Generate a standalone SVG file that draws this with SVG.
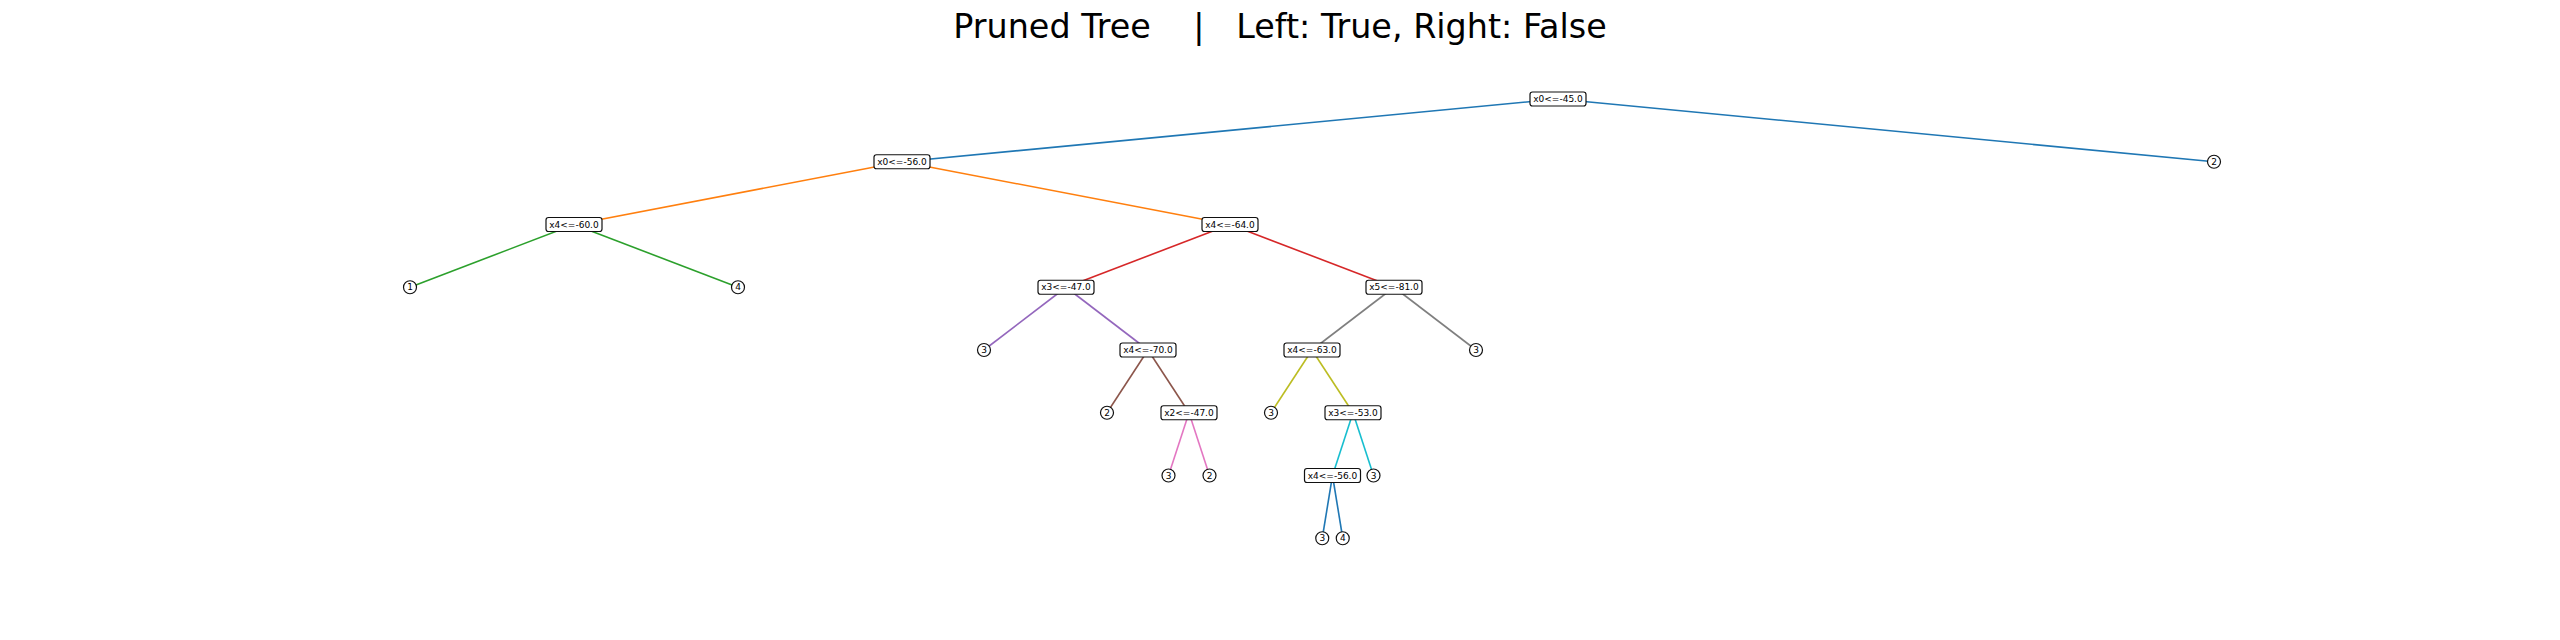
<svg xmlns="http://www.w3.org/2000/svg" width="2560" height="640" viewBox="0 0 2560 640">
<style>
.e{fill:none;stroke-width:1.6}
.box{fill:#fff;stroke:#111;stroke-width:1.2}
.leaf{fill:#fff;stroke:#111;stroke-width:1.2}
.t{font-family:"DejaVu Sans",sans-serif;font-size:9px;text-anchor:middle;fill:#000}
.title{font-family:"DejaVu Sans",sans-serif;font-size:33.4px;text-anchor:middle;fill:#000}
</style>
<rect width="2560" height="640" fill="#fff"/>
<text class="title" x="1280" y="38" xml:space="preserve">Pruned Tree    |   Left: True, Right: False</text>
<g id="connectors">
<line class="e" stroke="#1f77b4" x1="1558" y1="99" x2="902" y2="161.75"/>
<line class="e" stroke="#1f77b4" x1="1558" y1="99" x2="2214" y2="161.75"/>
<line class="e" stroke="#ff7f0e" x1="902" y1="161.75" x2="574" y2="224.5"/>
<line class="e" stroke="#ff7f0e" x1="902" y1="161.75" x2="1230" y2="224.5"/>
<line class="e" stroke="#2ca02c" x1="574" y1="224.5" x2="410" y2="287.25"/>
<line class="e" stroke="#2ca02c" x1="574" y1="224.5" x2="738" y2="287.25"/>
<line class="e" stroke="#d62728" x1="1230" y1="224.5" x2="1066" y2="287.25"/>
<line class="e" stroke="#d62728" x1="1230" y1="224.5" x2="1394" y2="287.25"/>
<line class="e" stroke="#9467bd" x1="1066" y1="287.25" x2="984" y2="350"/>
<line class="e" stroke="#9467bd" x1="1066" y1="287.25" x2="1148" y2="350"/>
<line class="e" stroke="#7f7f7f" x1="1394" y1="287.25" x2="1312" y2="350"/>
<line class="e" stroke="#7f7f7f" x1="1394" y1="287.25" x2="1476" y2="350"/>
<line class="e" stroke="#8c564b" x1="1148" y1="350" x2="1107" y2="412.75"/>
<line class="e" stroke="#8c564b" x1="1148" y1="350" x2="1189" y2="412.75"/>
<line class="e" stroke="#bcbd22" x1="1312" y1="350" x2="1271" y2="412.75"/>
<line class="e" stroke="#bcbd22" x1="1312" y1="350" x2="1353" y2="412.75"/>
<line class="e" stroke="#e377c2" x1="1189" y1="412.75" x2="1168.5" y2="475.5"/>
<line class="e" stroke="#e377c2" x1="1189" y1="412.75" x2="1209.5" y2="475.5"/>
<line class="e" stroke="#17becf" x1="1353" y1="412.75" x2="1332.5" y2="475.5"/>
<line class="e" stroke="#17becf" x1="1353" y1="412.75" x2="1373.5" y2="475.5"/>
<line class="e" stroke="#1f77b4" x1="1332.5" y1="475.5" x2="1322.25" y2="538.25"/>
<line class="e" stroke="#1f77b4" x1="1332.5" y1="475.5" x2="1342.75" y2="538.25"/>
</g>
<g id="n_root"><rect class="box" x="1530" y="92" width="56" height="14" rx="2.5"/><text class="t" x="1558" y="102.2">x0&lt;=-45.0</text></g>
<g id="n_x0_56"><rect class="box" x="874" y="154.75" width="56" height="14" rx="2.5"/><text class="t" x="902" y="164.95">x0&lt;=-56.0</text></g>
<g id="leaf_r2"><circle class="leaf" cx="2214" cy="161.75" r="6.5"/><text class="t" x="2214" y="164.95">2</text></g>
<g id="n_x4_60"><rect class="box" x="546" y="217.5" width="56" height="14" rx="2.5"/><text class="t" x="574" y="227.7">x4&lt;=-60.0</text></g>
<g id="n_x4_64"><rect class="box" x="1202" y="217.5" width="56" height="14" rx="2.5"/><text class="t" x="1230" y="227.7">x4&lt;=-64.0</text></g>
<g id="leaf_1"><circle class="leaf" cx="410" cy="287.25" r="6.5"/><text class="t" x="410" y="290.45">1</text></g>
<g id="leaf_4a"><circle class="leaf" cx="738" cy="287.25" r="6.5"/><text class="t" x="738" y="290.45">4</text></g>
<g id="n_x3_47"><rect class="box" x="1038" y="280.25" width="56" height="14" rx="2.5"/><text class="t" x="1066" y="290.45">x3&lt;=-47.0</text></g>
<g id="n_x5_81"><rect class="box" x="1366" y="280.25" width="56" height="14" rx="2.5"/><text class="t" x="1394" y="290.45">x5&lt;=-81.0</text></g>
<g id="leaf_3a"><circle class="leaf" cx="984" cy="350" r="6.5"/><text class="t" x="984" y="353.2">3</text></g>
<g id="n_x4_70"><rect class="box" x="1120" y="343" width="56" height="14" rx="2.5"/><text class="t" x="1148" y="353.2">x4&lt;=-70.0</text></g>
<g id="n_x4_63"><rect class="box" x="1284" y="343" width="56" height="14" rx="2.5"/><text class="t" x="1312" y="353.2">x4&lt;=-63.0</text></g>
<g id="leaf_3b"><circle class="leaf" cx="1476" cy="350" r="6.5"/><text class="t" x="1476" y="353.2">3</text></g>
<g id="leaf_2b"><circle class="leaf" cx="1107" cy="412.75" r="6.5"/><text class="t" x="1107" y="415.95">2</text></g>
<g id="n_x2_47"><rect class="box" x="1161" y="405.75" width="56" height="14" rx="2.5"/><text class="t" x="1189" y="415.95">x2&lt;=-47.0</text></g>
<g id="leaf_3c"><circle class="leaf" cx="1271" cy="412.75" r="6.5"/><text class="t" x="1271" y="415.95">3</text></g>
<g id="n_x3_53"><rect class="box" x="1325" y="405.75" width="56" height="14" rx="2.5"/><text class="t" x="1353" y="415.95">x3&lt;=-53.0</text></g>
<g id="leaf_3d"><circle class="leaf" cx="1168.5" cy="475.5" r="6.5"/><text class="t" x="1168.5" y="478.7">3</text></g>
<g id="leaf_2c"><circle class="leaf" cx="1209.5" cy="475.5" r="6.5"/><text class="t" x="1209.5" y="478.7">2</text></g>
<g id="n_x4_56"><rect class="box" x="1304.5" y="468.5" width="56" height="14" rx="2.5"/><text class="t" x="1332.5" y="478.7">x4&lt;=-56.0</text></g>
<g id="leaf_3e"><circle class="leaf" cx="1373.5" cy="475.5" r="6.5"/><text class="t" x="1373.5" y="478.7">3</text></g>
<g id="leaf_3f"><circle class="leaf" cx="1322.25" cy="538.25" r="6.5"/><text class="t" x="1322.25" y="541.45">3</text></g>
<g id="leaf_4b"><circle class="leaf" cx="1342.75" cy="538.25" r="6.5"/><text class="t" x="1342.75" y="541.45">4</text></g>
</svg>
